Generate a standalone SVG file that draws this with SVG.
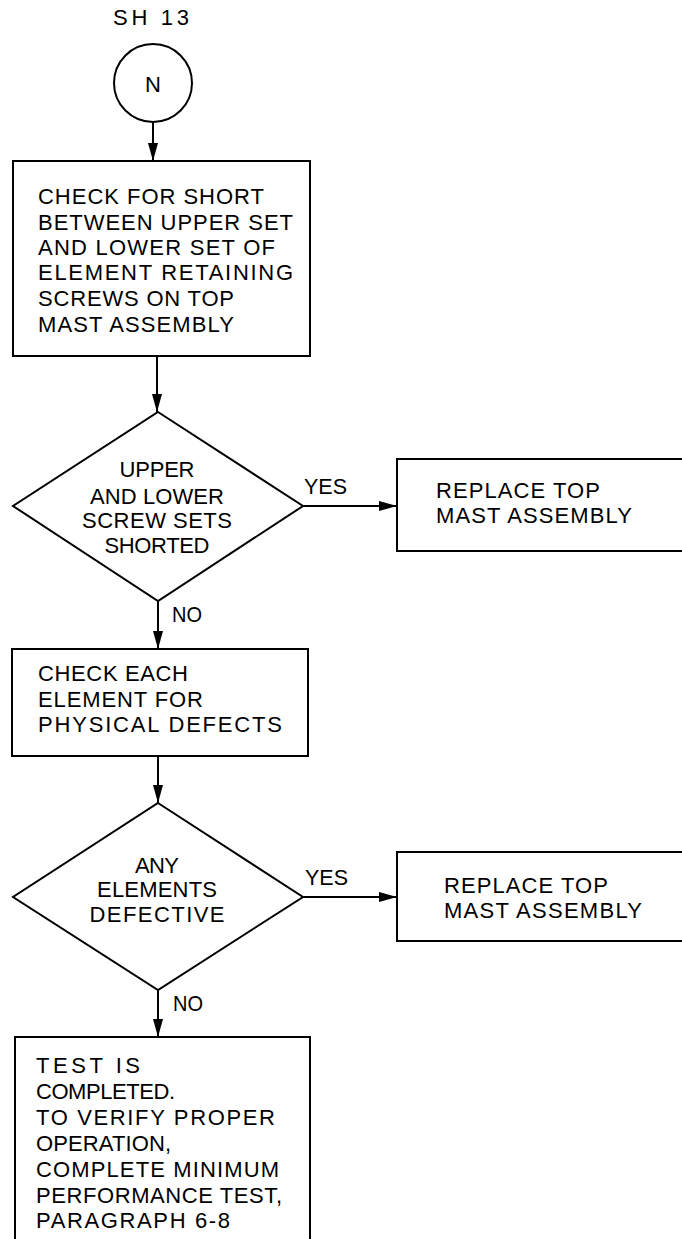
<svg xmlns="http://www.w3.org/2000/svg" width="682" height="1239" viewBox="0 0 682 1239">
<style>
  .shape { fill: #fff; stroke: #000; stroke-width: 2; }
  .line { fill: none; stroke: #000; stroke-width: 2; }
  text { font-family: "Liberation Sans", Arial, sans-serif; font-size: 22px; fill: #000; }
  .c { text-anchor: middle; }
  .thin { font-size: 22px; }
</style>
<defs>
  <marker id="arrow" markerUnits="userSpaceOnUse" markerWidth="18" markerHeight="10" refX="18" refY="5" orient="auto">
    <path d="M0,0 L18,5 L0,10 z" fill="#000"/>
  </marker>
</defs>
<rect width="682" height="1239" fill="#fff"/>

<g id="connectors">
  <line class="line" x1="153" y1="122" x2="153" y2="161" marker-end="url(#arrow)"/>
  <line class="line" x1="157" y1="356" x2="157" y2="412" marker-end="url(#arrow)"/>
  <line class="line" x1="303" y1="506" x2="397" y2="506" marker-end="url(#arrow)"/>
  <line class="line" x1="158" y1="601" x2="158" y2="649" marker-end="url(#arrow)"/>
  <line class="line" x1="158" y1="756" x2="158" y2="803" marker-end="url(#arrow)"/>
  <line class="line" x1="303" y1="897" x2="397" y2="897" marker-end="url(#arrow)"/>
  <line class="line" x1="158" y1="990" x2="158" y2="1037" marker-end="url(#arrow)"/>
  <text x="304" y="494" textLength="43" lengthAdjust="spacingAndGlyphs">YES</text>
  <text x="172" y="622" textLength="30" lengthAdjust="spacingAndGlyphs">NO</text>
  <text x="305" y="885" textLength="43" lengthAdjust="spacingAndGlyphs">YES</text>
  <text x="173" y="1011" textLength="30" lengthAdjust="spacingAndGlyphs">NO</text>
</g>

<g id="offpage-N">
  <text x="113" y="25" textLength="76" lengthAdjust="spacing">SH 13</text>
  <circle class="shape" cx="153" cy="83" r="39"/>
  <text class="c" x="153" y="92">N</text>
</g>

<g id="check-short">
  <rect class="shape" x="13" y="161" width="297" height="195"/>
  <text x="38" y="204" textLength="226" lengthAdjust="spacing">CHECK FOR SHORT</text>
  <text x="38" y="230" textLength="255" lengthAdjust="spacing">BETWEEN UPPER SET</text>
  <text x="38" y="255" textLength="237" lengthAdjust="spacing">AND LOWER SET OF</text>
  <text x="38" y="280" textLength="255" lengthAdjust="spacing">ELEMENT RETAINING</text>
  <text x="38" y="306" textLength="196" lengthAdjust="spacing">SCREWS ON TOP</text>
  <text x="38" y="332" textLength="196" lengthAdjust="spacing">MAST ASSEMBLY</text>
</g>

<g id="decision-shorted">
  <polygon class="shape" points="158,412 303,506 158,601 13,506"/>
  <text class="c" x="157" y="477" textLength="75" lengthAdjust="spacing">UPPER</text>
  <text class="c" x="157" y="504" textLength="134" lengthAdjust="spacing">AND LOWER</text>
  <text class="c" x="157" y="528" textLength="150" lengthAdjust="spacing">SCREW SETS</text>
  <text class="c" x="157" y="553" textLength="105" lengthAdjust="spacing">SHORTED</text>
</g>

<g id="replace-1">
  <rect class="shape" x="397" y="459" width="295" height="92"/>
  <text x="436" y="498" textLength="164" lengthAdjust="spacing">REPLACE TOP</text>
  <text x="436" y="523" textLength="196" lengthAdjust="spacing">MAST ASSEMBLY</text>
</g>

<g id="check-each">
  <rect class="shape" x="12" y="649" width="296" height="107"/>
  <text x="38" y="681" textLength="150" lengthAdjust="spacing">CHECK EACH</text>
  <text x="38" y="707" textLength="165" lengthAdjust="spacing">ELEMENT FOR</text>
  <text x="38" y="732" textLength="244" lengthAdjust="spacing">PHYSICAL DEFECTS</text>
</g>

<g id="decision-defective">
  <polygon class="shape" points="158,803 303,897 158,990 13,897"/>
  <text class="c" x="157" y="873" textLength="44" lengthAdjust="spacing">ANY</text>
  <text class="c" x="157" y="897" textLength="120" lengthAdjust="spacing">ELEMENTS</text>
  <text class="c" x="157" y="922" textLength="135" lengthAdjust="spacing">DEFECTIVE</text>
</g>

<g id="replace-2">
  <rect class="shape" x="397" y="852" width="295" height="89"/>
  <text x="444" y="893" textLength="164" lengthAdjust="spacing">REPLACE TOP</text>
  <text x="444" y="918" textLength="198" lengthAdjust="spacing">MAST ASSEMBLY</text>
</g>

<g id="test-completed">
  <rect class="shape" x="15" y="1037" width="295" height="215"/>
  <text class="thin" x="36" y="1073" textLength="104" lengthAdjust="spacing">TEST IS</text>
  <text class="thin" x="36" y="1099" textLength="139" lengthAdjust="spacing">COMPLETED.</text>
  <text class="thin" x="36" y="1125" textLength="239" lengthAdjust="spacing">TO VERIFY PROPER</text>
  <text class="thin" x="36" y="1151" textLength="135" lengthAdjust="spacing">OPERATION,</text>
  <text class="thin" x="36" y="1177" textLength="243" lengthAdjust="spacing">COMPLETE MINIMUM</text>
  <text class="thin" x="36" y="1203" textLength="246" lengthAdjust="spacing">PERFORMANCE TEST,</text>
  <text class="thin" x="36" y="1228" textLength="194" lengthAdjust="spacing">PARAGRAPH 6-8</text>
</g>
</svg>
